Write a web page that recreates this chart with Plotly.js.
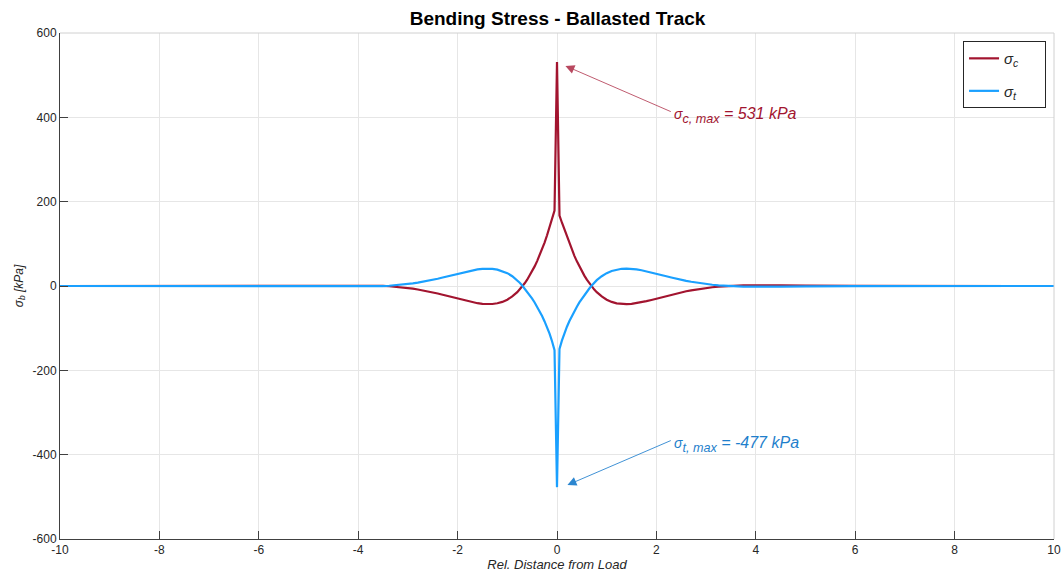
<!DOCTYPE html>
<html>
<head>
<meta charset="utf-8">
<script src="https://cdn.plot.ly/plotly-3.0.1.min.js"></script>
<style>html,body{margin:0;padding:0;background:#fff;}#chart{width:1062px;height:576px;}</style>
</head>
<body>
<div id="chart"></div>
<script>
// Relative distance from load
const xDist = [-10,-6,-5.5,-5,-4.5,-4.25,-4,-3.875,-3.75,-3.625,-3.5,-3.375,-3.25,-3.125,-3,-2.9,-2.8,-2.7,-2.6,-2.5,-2.4,-2.3,-2.2,-2.1,-2,-1.9,-1.8,-1.7,-1.6,-1.5,-1.4,-1.3,-1.2,-1.1,-1,-0.9,-0.8,-0.75,-0.7,-0.65,-0.6,-0.55,-0.5,-0.45,-0.4,-0.35,-0.3,-0.25,-0.2,-0.15,-0.1,-0.05,
  0,
  0.05,0.1,0.15,0.2,0.25,0.3,0.35,0.4,0.45,0.5,0.55,0.6,0.65,0.7,0.75,0.8,0.9,1,1.1,1.2,1.3,1.4,1.5,1.6,1.7,1.8,1.9,2,2.1,2.2,2.3,2.4,2.5,2.6,2.7,2.8,2.9,3,3.125,3.25,3.375,3.5,3.625,3.75,3.875,4,4.25,4.5,5,5.5,6,10];

// Compressive bending stress sigma_c [kPa]
const sigmaC = [0,0.1,0.4,1.0,1.6,1.8,1.8,1.6,1.4,0.9,0.3,-0.6,-1.7,-3.0,-4.7,-6.3,-8.2,-10.2,-12.5,-15.0,-17.7,-20.7,-23.7,-26.8,-30,-33.1,-36,-38.6,-40.8,-42.3,-43,-42.7,-41,-37.7,-32.4,-24.8,-14.7,-8.5,-1.5,6.4,15,24.6,35,46.5,59,72.5,87.2,103,120.3,138.8,158.5,179,
  531,
  167,150,134,117,101,86,71.5,58.5,46.3,35,24.6,15,6.4,-1.5,-8.5,-14.7,-24.8,-32.4,-37.7,-41,-42.7,-43,-42.3,-40.8,-38.6,-36,-33.1,-30,-26.8,-23.7,-20.7,-17.7,-15.0,-12.5,-10.2,-8.2,-6.3,-4.7,-3.0,-1.7,-0.6,0.3,0.9,1.4,1.6,1.8,1.8,1.6,1.0,0.4,0.1,0];

// Tensile bending stress sigma_t [kPa]
const sigmaT = [0,-0.1,-0.4,-1.0,-1.6,-1.8,-1.8,-1.6,-1.3,-0.9,-0.3,0.55,1.6,2.9,4.6,6.2,8,10,12.2,14.7,17.2,20.2,23,26.2,29,32,34.8,37.3,39.3,40.6,41.2,40.8,38.9,35.5,30.4,23.2,13.8,7.8,1.2,-6,-13.5,-21.5,-30,-39,-49,-59.5,-71,-84,-98,-113,-131,-152,
  -477,
  -149,-129,-111,-96.5,-83,-70.5,-59,-49,-39,-30,-21.5,-13.5,-6,1.2,7.8,13.8,23.2,30.4,35.5,38.9,40.8,41.2,40.6,39.3,37.3,34.8,32,29,26.2,23,20.2,17.2,14.7,12.2,10,8,6.2,4.6,2.9,1.6,0.55,-0.3,-0.9,-1.3,-1.6,-1.8,-1.8,-1.6,-1.0,-0.4,-0.1,0];

const xTicks = [-10,-8,-6,-4,-2,0,2,4,6,8,10];
const yTicks = [-600,-400,-200,0,200,400,600];

const redColor = '#A2142F';
const blueColor = '#1AA0FF';
const font = 'Liberation Sans, Arial, Helvetica, sans-serif';

const traces = [
  {x: xDist, y: sigmaC, type: 'scatter', mode: 'lines', name: '<i>σ<sub>c</sub></i>&nbsp;&nbsp;&nbsp;&nbsp;&nbsp;',
   legendgroup: 'c', line: {color: redColor, width: 2.2}},
  {x: xDist, y: sigmaT, type: 'scatter', mode: 'lines', name: '<i>σ<sub>t</sub></i>&nbsp;&nbsp;&nbsp;&nbsp;&nbsp;',
   legendgroup: 't', line: {color: blueColor, width: 2.2}}
];

const layout = {
  width: 1062, height: 576,
  margin: {l: 60, r: 8, t: 33, b: 37},
  paper_bgcolor: '#ffffff', plot_bgcolor: '#ffffff',
  font: {family: font, color: '#262626', size: 12},
  title: {text: '<b>Bending Stress - Ballasted Track</b>', x: 0.525, xanchor: 'center', y: 0.968, yanchor: 'middle',
          font: {family: font, size: 19, color: '#000000'}},
  showlegend: true,
  legend: {x: 0.992, xanchor: 'right', y: 0.984, yanchor: 'top', bgcolor: '#ffffff',
           bordercolor: '#262626', borderwidth: 1, font: {family: font, size: 15, color: '#262626'},
           traceorder: 'grouped', tracegroupgap: 10},
  xaxis: {range: [-10, 10], tickvals: xTicks, ticktext: xTicks.map(String), ticks: 'inside', ticklen: 8,
          tickcolor: '#404040', showline: true, linecolor: '#404040', linewidth: 1, showgrid: true,
          gridcolor: '#e6e6e6', zeroline: false, tickfont: {size: 12, color: '#262626'},
          title: {text: '<i>Rel. Distance from Load</i>', standoff: 3, font: {size: 13, color: '#262626'}}},
  yaxis: {range: [-600, 600], tickvals: yTicks, ticktext: yTicks.map(String), ticks: 'inside', ticklen: 8,
          tickcolor: '#404040', showline: true, linecolor: '#404040', linewidth: 1, showgrid: true,
          gridcolor: '#e6e6e6', zeroline: false, tickfont: {size: 12, color: '#262626'},
          title: {text: '<i>σ<sub>b</sub> [kPa]</i>', standoff: 6, font: {size: 12, color: '#262626'}}},
  shapes: [
    {type: 'line', xref: 'paper', yref: 'paper', x0: 0, x1: 1, y0: 1, y1: 1, line: {color: '#d0d0d0', width: 1}},
    {type: 'line', xref: 'paper', yref: 'paper', x0: 1, x1: 1, y0: 0, y1: 1, line: {color: '#d0d0d0', width: 1}}
  ],
  annotations: [
    {x: 0.17, y: 522, ax: 2.32, ay: 412, xref: 'x', yref: 'y', axref: 'x', ayref: 'y', text: '',
     showarrow: true, arrowhead: 2, arrowsize: 2, arrowwidth: 0.9, arrowcolor: '#B8485F'},
    {x: 2.32, y: 404, xref: 'x', yref: 'y', xanchor: 'left', yanchor: 'middle', showarrow: false,
     text: '<i><span style="font-size:14px">σ</span><span style="font-size:18px"><sub>c, max</sub></span> = 531 kPa</i>',
     font: {family: font, size: 16, color: redColor}},
    {x: 0.21, y: -472, ax: 2.32, ay: -365, xref: 'x', yref: 'y', axref: 'x', ayref: 'y', text: '',
     showarrow: true, arrowhead: 2, arrowsize: 2, arrowwidth: 0.9, arrowcolor: '#2B86D0'},
    {x: 2.32, y: -377, xref: 'x', yref: 'y', xanchor: 'left', yanchor: 'middle', showarrow: false,
     text: '<i><span style="font-size:14px">σ</span><span style="font-size:18px"><sub>t, max</sub></span> = -477 kPa</i>',
     font: {family: font, size: 16, color: '#1F7FCC'}}
  ]
};

Plotly.newPlot('chart', traces, layout, {displayModeBar: false, staticPlot: true});
</script>
</body>
</html>
